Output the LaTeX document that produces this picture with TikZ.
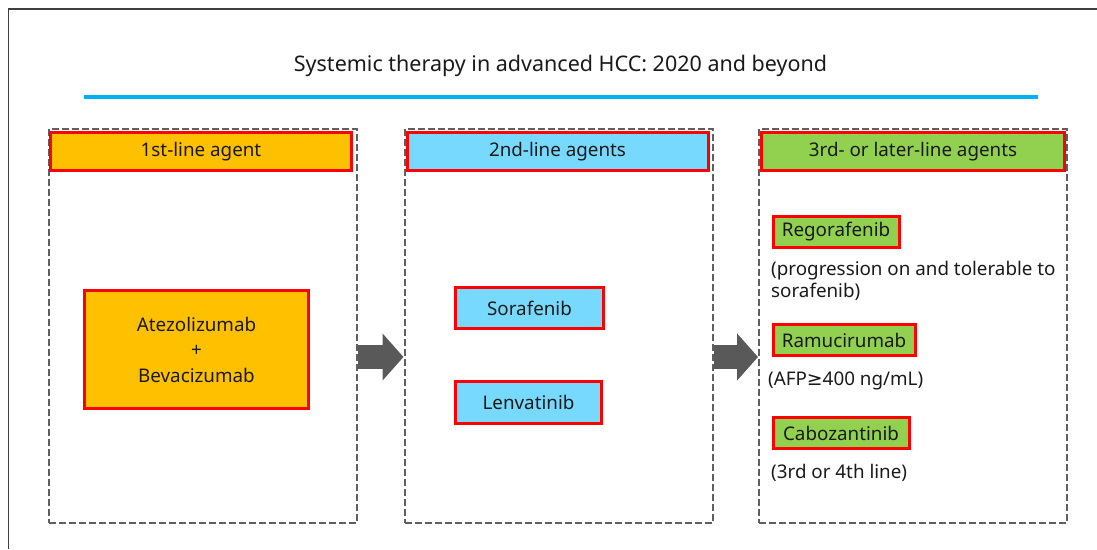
\documentclass[tikz,border=0pt]{standalone}
\usepackage{fontspec}
\setmainfont{Noto Sans}
\newfontfamily\symfont{DejaVu Sans}
\usetikzlibrary{arrows.meta,positioning}

\definecolor{framegray}{HTML}{404040}
\definecolor{panelgray}{HTML}{5F5F5F}
\definecolor{arrowgray}{HTML}{595959}
\definecolor{rulecyan}{HTML}{00B0F0}
\definecolor{boxred}{HTML}{FF0000}
\definecolor{firstfill}{HTML}{FFC000}
\definecolor{secondfill}{HTML}{78D9FF}
\definecolor{thirdfill}{HTML}{92D050}
\definecolor{inkgray}{HTML}{1A1A1A}

\tikzset{
  panel/.style={draw=panelgray, line width=2pt, dash pattern=on 7pt off 3pt,
    minimum width=308pt, minimum height=394pt, inner sep=0pt},
  header/.style={draw=boxred, line width=3pt, minimum width=301pt,
    minimum height=38pt, inner sep=0pt, text=inkgray,
    font=\fontsize{18.8}{22}\selectfont},
  agent/.style={draw=boxred, line width=3pt, inner sep=0pt, text=inkgray,
    align=center, font=\fontsize{18.8}{25.5}\selectfont},
  note/.style={anchor=west, inner sep=0pt, align=left, text=inkgray,
    font=\fontsize{18.8}{22}\selectfont},
  flow/.style={draw=arrowgray, line width=24pt,
    -{Triangle[length=21pt,width=46pt]}},
}

\begin{document}
\begin{tikzpicture}[x=1pt, y=-1pt]
  \useasboundingbox (0,0) rectangle (1097,549);
  % outer frame
  \draw[framegray, line width=1.5pt] (8.5,549) -- (8.5,9) -- (1097,9);

  % title and rule
  \node[text=inkgray, font=\fontsize{21.5}{26}\selectfont] (title) at (560.5,66)
    {Systemic therapy in advanced HCC: 2020 and beyond};
  \draw[rulecyan, line width=4pt] (84,97) -- (1038,97);

  % panels
  \node[panel] (p1) at (203,326) {};
  \node[panel] (p2) at (558.5,326) {};
  \node[panel] (p3) at (913,326) {};

  % headers
  \node[header, fill=firstfill] (h1) at (201,151.5) {1st-line agent};
  \node[header, fill=secondfill] (h2) at (557.5,151.5) {2nd-line agents};
  \node[header, fill=thirdfill, minimum width=303pt] (h3) at (913,151.5)
    {3rd- or later-line agents};

  % 1st line
  \node[agent, fill=firstfill, minimum width=224pt, minimum height=118pt]
    (atezo) at (196.5,349.5) {Atezolizumab\\+\\Bevacizumab};

  % 2nd line
  \node[agent, fill=secondfill, minimum width=148pt, minimum height=41pt]
    (sora) at (529.5,308) {Sorafenib};
  \node[agent, fill=secondfill, minimum width=146pt, minimum height=42pt]
    (lenva) at (528.5,402.5) {Lenvatinib};

  % 3rd line
  \node[agent, fill=thirdfill, anchor=west, minimum width=126pt,
    minimum height=31pt] (rego) at (771.5,232) {Regorafenib};
  \node[note] (regonote) at (771,281)
    {(progression on and tolerable to\\sorafenib)};
  \node[agent, fill=thirdfill, anchor=west, minimum width=142pt,
    minimum height=31pt] (ramu) at (771.5,340) {Ramucirumab};
  \node[note] (ramunote) at (768,381) {(AFP{\symfont ≥}400 ng/mL)};
  \node[agent, fill=thirdfill, anchor=west, minimum width=136pt,
    minimum height=31pt] (cabo) at (771.5,433) {Cabozantinib};
  \node[note] (cabonote) at (771,473) {(3rd or 4th line)};

  % flow arrows between panels
  \coordinate (a1) at (p1.east |- 0,357);
  \coordinate (b1) at (p2.west |- 0,357);
  \coordinate (a2) at (p2.east |- 0,357);
  \coordinate (b2) at (p3.west |- 0,357);
  \draw[flow] (a1) -- (b1);
  \draw[flow] (a2) -- (b2);
\end{tikzpicture}
\end{document}
